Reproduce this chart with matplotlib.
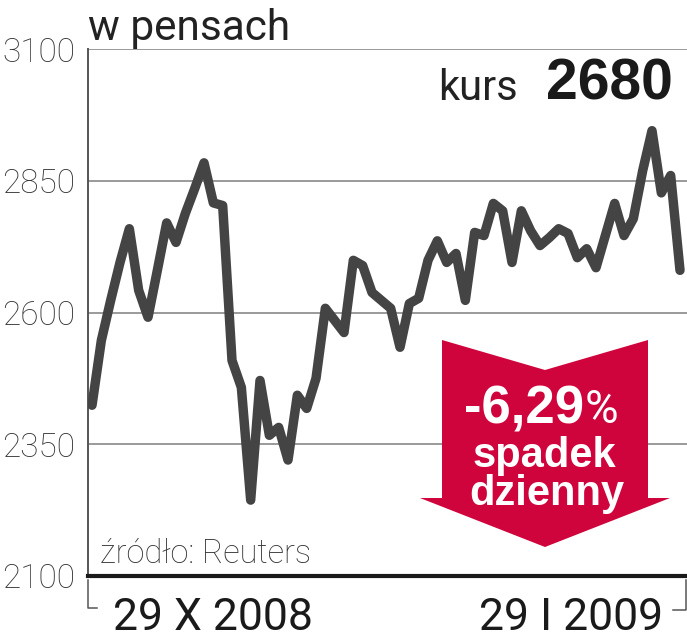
import matplotlib.pyplot as plt
from matplotlib.patches import Polygon
from matplotlib.lines import Line2D

# kurs dzienny, 29 X 2008 - 29 I 2009 (w pensach)
kurs = [2424, 2547, 2623, 2695, 2759, 2642, 2591, 2680, 2770, 2733,
        2788, 2835, 2884, 2808, 2803, 2509, 2458, 2244, 2471, 2367,
        2382, 2320, 2443, 2418, 2475, 2608, 2585, 2562, 2699, 2689,
        2638, 2623, 2608, 2534, 2617, 2627, 2699, 2736, 2695, 2712,
        2623, 2752, 2746, 2807, 2793, 2695, 2793, 2755, 2727, 2742,
        2759, 2750, 2704, 2721, 2685, 2746, 2807, 2746, 2778, 2869,
        2945, 2827, 2860, 2680]
y_ticks = [2100, 2350, 2600, 2850, 3100]
data_od = "29 X 2008"
data_do = "29 I 2009"
kurs_ost = "2680"
zmiana = "-6,29"

W, H = 687, 640
light = ['Roboto', 'DejaVu Sans']
bold = ['Liberation Sans', 'DejaVu Sans']


def px(x, y):
    return x / W, 1 - y / H


fig = plt.figure(figsize=(W / 100, H / 100), dpi=100)
ax = fig.add_axes([88 / W, 1 - 576 / H, (W - 88) / W, (576 - 49) / H])

ax.plot(range(len(kurs)), kurs, color="#444444", lw=6.8,
        solid_joinstyle="round", solid_capstyle="round", zorder=3)
ax.set_xlim(-0.43, len(kurs) - 1 + 0.75)
ax.set_ylim(2100, 3100)

for v in y_ticks[1:]:
    ax.axhline(v, color="#9a9a9a", lw=1.4, zorder=1)

ax.set_yticks(y_ticks)
ax.set_yticklabels([str(v) for v in y_ticks], family=light, weight="light",
                   fontsize=24, color="#333333")
ax.tick_params(axis="y", length=0, pad=9)
ax.set_xticks([])
for s in ["top", "right"]:
    ax.spines[s].set_visible(False)
ax.spines["left"].set_color("#555555")
ax.spines["left"].set_linewidth(1.4)
ax.spines["bottom"].set_color("#1a1a1a")
ax.spines["bottom"].set_linewidth(3)

# strzalka
pts = [(442, 340), (545, 370), (648, 340), (648, 498), (670, 498),
       (545, 547), (420, 498), (442, 498)]
fig.add_artist(Polygon([px(x, y) for x, y in pts], closed=True,
                       transform=fig.transFigure, facecolor="#d0043c",
                       edgecolor="none", zorder=5))
fig.text(*px(584, 423), zmiana, ha="right", va="baseline", family=bold,
         weight="bold", fontsize=38, color="white", zorder=6)
fig.text(*px(585, 423), "%", ha="left", va="baseline", family=light,
         fontsize=33, color="white", zorder=6)
fig.text(*px(544, 467), "spadek", ha="center", va="baseline", family=bold,
         weight="bold", fontsize=30, color="white", zorder=6)
fig.text(*px(547, 505), "dzienny", ha="center", va="baseline", family=bold,
         weight="bold", fontsize=30, color="white", zorder=6)

# teksty
fig.text(*px(88, 40), "w pensach", ha="left", va="baseline", family=light,
         fontsize=30.5, color="#222222")
fig.text(*px(438, 100), "kurs", ha="left", va="baseline", family=light,
         fontsize=30, color="#222222")
fig.text(*px(673, 100), kurs_ost, ha="right", va="baseline", family=bold,
         weight="bold", fontsize=41, color="#1a1a1a")
fig.text(*px(100, 563), "źródło: Reuters", ha="left", va="baseline",
         family=light, weight="light", fontsize=23.5, color="#333333")
fig.text(*px(113, 630), data_od, ha="left", va="baseline", family=light,
         fontsize=32, color="#1a1a1a")
fig.text(*px(663, 630), data_do, ha="right", va="baseline", family=light,
         fontsize=32, color="#1a1a1a")

# nawiasy pod osia
fig.add_artist(Line2D([88 / W, 88 / W, 97 / W],
                      [1 - 580 / H, 1 - 608 / H, 1 - 608 / H],
                      transform=fig.transFigure, color="#555555", lw=1.1))
fig.add_artist(Line2D([673 / W, 686 / W, 686 / W],
                      [1 - 610 / H, 1 - 610 / H, 1 - 580 / H],
                      transform=fig.transFigure, color="#555555", lw=1.1))

fig.savefig("out.png", dpi=100)
